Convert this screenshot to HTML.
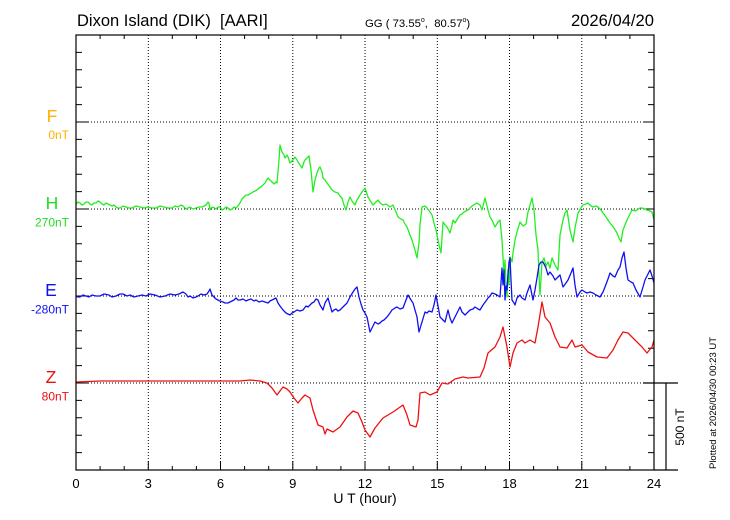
<!DOCTYPE html>
<html><head><meta charset="utf-8"><style>
html,body{margin:0;padding:0;background:#fff;}
svg{display:block;font-family:"Liberation Sans",Arial,sans-serif;}
.pre{white-space:pre;}
</style></head><body>
<svg width="730" height="520" viewBox="0 0 730 520" xmlns="http://www.w3.org/2000/svg" xml:space="preserve">
<rect width="730" height="520" fill="#fff"/>
<!-- titles -->
<text class="pre" x="77" y="26" font-size="16.5" fill="#000">Dixon Island (DIK)  [AARI]</text>
<text class="pre" x="365" y="27" font-size="11.3" fill="#000">GG ( 73.55<tspan font-size="7" dy="-5">o</tspan><tspan dy="5">,  80.57</tspan><tspan font-size="7" dy="-5">o</tspan><tspan dy="5">)</tspan></text>
<text x="654" y="26" font-size="16.6" text-anchor="end" fill="#000">2026/04/20</text>

<!-- grid -->
<g stroke="#000" stroke-width="1" stroke-dasharray="1,2" fill="none">
<line x1="148.3" y1="35" x2="148.3" y2="470"/>
<line x1="220.5" y1="35" x2="220.5" y2="470"/>
<line x1="292.8" y1="35" x2="292.8" y2="470"/>
<line x1="365" y1="35" x2="365" y2="470"/>
<line x1="437.3" y1="35" x2="437.3" y2="470"/>
<line x1="509.5" y1="35" x2="509.5" y2="470"/>
<line x1="581.8" y1="35" x2="581.8" y2="470"/>
<line x1="76" y1="122" x2="654" y2="122"/>
<line x1="76" y1="209" x2="654" y2="209"/>
<line x1="76" y1="296" x2="654" y2="296"/>
<line x1="76" y1="383" x2="654" y2="383"/>
</g>

<!-- ticks -->
<g stroke="#000" stroke-width="1">
<path d="M100.1 35v4M124.2 35v4M172.3 35v4M196.4 35v4M244.6 35v4M268.7 35v4M316.8 35v4M340.9 35v4M389.1 35v4M413.2 35v4M461.3 35v4M485.4 35v4M533.6 35v4M557.7 35v4M605.8 35v4M629.9 35v4"/>
<path d="M100.1 470v-4M124.2 470v-4M172.3 470v-4M196.4 470v-4M244.6 470v-4M268.7 470v-4M316.8 470v-4M340.9 470v-4M389.1 470v-4M413.2 470v-4M461.3 470v-4M485.4 470v-4M533.6 470v-4M557.7 470v-4M605.8 470v-4M629.9 470v-4"/>
<path d="M148.3 470v-9M220.5 470v-9M292.8 470v-9M365 470v-9M437.3 470v-9M509.5 470v-9M581.8 470v-9"/>
<path d="M76 52.4h6M76 69.8h6M76 87.2h6M76 104.6h6M76 122h12M76 139.4h6M76 156.8h6M76 174.2h6M76 191.6h6M76 209h12M76 226.4h6M76 243.8h6M76 261.2h6M76 278.6h6M76 296h12M76 313.4h6M76 330.8h6M76 348.2h6M76 365.6h6M76 383h12M76 400.4h6M76 417.8h6M76 435.2h6M76 452.6h6"/>
<path d="M654 52.4h-6M654 69.8h-6M654 87.2h-6M654 104.6h-6M654 122h-11M654 139.4h-6M654 156.8h-6M654 174.2h-6M654 191.6h-6M654 209h-11M654 226.4h-6M654 243.8h-6M654 261.2h-6M654 278.6h-6M654 296h-11M654 313.4h-6M654 330.8h-6M654 348.2h-6M654 365.6h-6M654 400.4h-6M654 417.8h-6M654 435.2h-6M654 452.6h-6"/>
</g>

<!-- series -->
<g fill="none" stroke-width="1.3" stroke-linejoin="round">
<polyline stroke="#22ee22" points="76,204 78,202 80,203 82,205 84,204 86,202 88,202 90,204 92,205 94,203 96,203 98,201 100,202 102,204 104,205 106,203 108,204 110,205 112,206 114,205 116,207 118,208 120,208 123,206 126,207 129,208 132,208 136,206 140,207 144,208 148,207 152,208 156,208 160,206 164,207 168,208 172,208 175,206 178,207 181,205 183,206 186,209 188,208 190,207 193,209 196,208 199,207 202,207 204,206 206,205 208,202 209,203 210,210 211,208 213,207 216,209 218,207 220,207 222,210 224,209 226,207 228,208 230,210 232,209 234,207 236,208 238,206 240,203 242,199 243,198 245,196 246,195 248,195 250,194 253,192 255,191 257,190 259,188 261,187 263,185 265,183 266,181 268,178 270,180 271,181 273,183 274,184 276,182 277,183 279,160 280,145 282,152 284,155 285,158 287,155 288,157 290,163 292,161 293,160 295,157 297,160 298,162 300,165 302,168 304,162 305,160 307,158 309,156 311,170 313,192 315,180 317,173 319,168 320,167 322,172 323,178 325,180 327,183 330,187 332,190 335,192 338,193 340,196 342,198 344,205 346,210 348,202 350,197 352,201 355,205 357,200 360,195 362,192 365,188 367,194 368,197 371,202 373,205 376,202 378,200 380,203 383,205 386,204 390,207 393,205 396,212 398,217 401,219 403,220 405,224 407,227 410,235 412,240 415,250 417,258 419,243 420,225 422,207 425,206 427,208 430,212 432,215 434,223 436,230 439,245 441,253 443,222 445,225 447,227 450,233 452,225 453,220 455,223 458,218 460,215 462,214 464,212 466,211 468,210 470,208 472,206 475,204 477,203 480,205 482,210 485,198 488,210 490,217 492,220 495,227 498,222 500,220 502,240 503,257 504,275 505,260 506,285 507,297 508,270 509,285 510,257 512,262 513,253 515,240 517,232 520,222 523,226 526,224 528,212 530,205 532,198 534,210 536,235 538,250 539,275 540,295 542,262 544,258 546,266 548,262 550,268 552,258 555,265 558,270 560,235 563,220 565,213 567,210 570,230 573,242 575,228 578,213 581,208 583,205 586,204 588,203 591,206 593,207 596,206 598,207 601,210 603,213 606,217 610,223 614,228 617,233 619,238 621,242 623,230 625,225 627,220 630,214 632,210 635,211 637,210 640,208 642,208 645,209 647,210 650,211 652,212 654,220"/>
<polyline stroke="#1010f0" points="76,296 78,297 80,297 83,295 86,296 89,297 92,295 96,296 100,296 104,294 109,295 112,297 116,296 120,294 123,294 127,296 130,295 134,297 138,296 142,295 146,296 150,294 155,295 160,297 165,296 170,294 175,295 179,294 183,292 186,294 188,297 190,296 193,298 196,297 198,296 201,294 204,295 207,294 209,291 210,289 212,295 214,297 216,299 218,300 220,301 223,302 225,303 228,303 230,302 232,301 234,300 236,298 238,300 240,300 243,299 246,301 248,300 251,299 254,301 256,300 259,302 262,301 265,302 268,303 270,301 272,300 274,299 276,298 278,303 280,306 283,310 286,313 290,315 292,313 294,312 297,310 300,311 303,310 306,306 308,307 310,305 312,303 314,302 316,299 318,300 320,305 323,310 325,303 328,298 330,305 332,312 334,310 336,309 338,311 340,310 342,308 344,306 347,303 350,297 353,292 355,289 357,287 359,297 361,304 363,310 365,313 367,317 370,332 373,326 375,322 378,324 380,323 382,321 384,320 387,317 390,313 392,310 395,308 397,307 400,309 403,308 406,300 408,295 411,300 413,303 415,310 417,317 419,332 422,322 425,312 427,313 429,311 432,312 434,305 436,295 438,306 440,317 443,320 445,322 448,310 450,318 452,323 455,317 458,311 460,307 462,312 465,315 468,312 470,310 473,309 475,307 478,309 480,310 483,305 486,301 488,298 490,296 492,293 495,294 497,295 500,297 502,268 503,285 504,270 505,300 506,286 507,290 508,275 509,262 510,258 511,280 512,300 514,303 515,305 517,298 520,295 522,298 525,300 527,293 530,285 532,295 533,300 535,290 537,278 539,265 541,262 543,262 546,268 548,275 550,272 553,276 555,280 558,277 560,275 563,287 566,283 568,280 571,273 573,268 575,285 577,297 580,292 582,290 585,292 587,293 590,292 593,293 596,295 600,297 603,292 605,287 608,279 610,273 613,276 615,277 618,270 620,267 622,258 624,252 626,268 628,280 631,282 633,283 636,290 640,297 643,287 645,280 648,274 650,270 652,276 654,283"/>
<polyline stroke="#f01010" points="76,382 100,381 150,381 200,381 240,381 250,380 260,381 267,383 272,388 277,395 280,391 283,387 287,389 290,392 294,398 298,403 302,398 305,395 310,398 313,410 318,425 323,427 325,434 327,429 333,432 340,427 347,417 353,411 358,413 362,422 365,430 370,437 375,428 383,418 393,412 403,405 407,415 410,425 416,427 418,420 420,393 425,392 430,395 437,392 442,383 448,384 455,379 463,377 468,378 480,377 484,368 488,353 495,347 500,337 503,327 505,337 507,347 510,367 513,353 517,343 522,340 525,343 530,340 535,343 538,327 542,302 545,317 550,323 555,337 560,347 567,348 572,340 575,347 582,345 588,352 597,357 607,358 613,350 618,340 623,332 628,333 635,340 642,347 647,353 652,347 654,340"/>
</g>

<!-- frame -->
<g stroke="#000" stroke-width="1.2" fill="none">
<rect x="76" y="35" width="578" height="435"/>
<line x1="654" y1="470" x2="678" y2="470"/>
<line x1="643" y1="383" x2="678" y2="383"/>
<line x1="666" y1="383" x2="666" y2="470"/>
</g>

<!-- axis labels -->
<g font-size="13" fill="#000" text-anchor="middle">
<text x="76" y="488">0</text>
<text x="148.3" y="488">3</text>
<text x="220.5" y="488">6</text>
<text x="292.8" y="488">9</text>
<text x="365" y="488">12</text>
<text x="437.3" y="488">15</text>
<text x="509.5" y="488">18</text>
<text x="581.8" y="488">21</text>
<text x="654" y="488">24</text>
<text x="365" y="503" font-size="14">U T (hour)</text>
</g>

<!-- component labels -->
<g text-anchor="middle" font-size="17.5">
<text x="52" y="122" fill="#ffb000">F</text>
<text x="52" y="209" fill="#22dd22">H</text>
<text x="51" y="296" fill="#1010f0">E</text>
<text x="51" y="383" fill="#f01010">Z</text>
</g>
<g text-anchor="end" font-size="12">
<text x="69" y="139" fill="#ffb000">0nT</text>
<text x="69" y="226.5" fill="#22dd22">270nT</text>
<text x="69" y="313.5" fill="#1010f0">-280nT</text>
<text x="69" y="400.5" fill="#f01010">80nT</text>
</g>

<text transform="translate(684,427) rotate(-90)" font-size="12" text-anchor="middle" fill="#000">500 nT</text>
<text transform="translate(716,403) rotate(-90)" font-size="9.5" text-anchor="middle" fill="#000">Plotted at 2026/04/30 00:23 UT</text>
</svg>
</body></html>
